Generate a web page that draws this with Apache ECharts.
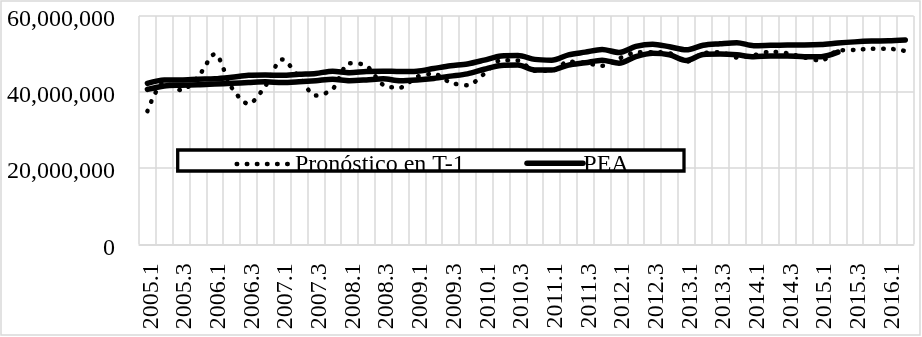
<!DOCTYPE html>
<html><head><meta charset="utf-8">
<script src="https://cdn.jsdelivr.net/npm/echarts@6/dist/echarts.min.js"></script>
<style>html,body{margin:0;padding:0;background:#fff}#c{width:922px;height:337px}</style>
</head><body><div id="c"></div>
<script>
const categories = ['2005.1','2005.2','2005.3','2005.4','2006.1','2006.2','2006.3','2006.4',
  '2007.1','2007.2','2007.3','2007.4','2008.1','2008.2','2008.3','2008.4',
  '2009.1','2009.2','2009.3','2009.4','2010.1','2010.2','2010.3','2010.4',
  '2011.1','2011.2','2011.3','2011.4','2012.1','2012.2','2012.3','2012.4',
  '2013.1','2013.2','2013.3','2013.4','2014.1','2014.2','2014.3','2014.4',
  '2015.1','2015.2','2015.3','2015.4','2016.1','2016.2'];

const forecastT1 = [35000000,42500000,40500000,44000000,50000000,41200000,36900000,41600000,48600000,44000000,
  39100000,40800000,47600000,46900000,41900000,41200000,44000000,44800000,42500000,41800000,
  44800000,48400000,48300000,45600000,45600000,48000000,47700000,46900000,48800000,50400000,
  50500000,50200000,48000000,50200000,50500000,49100000,49700000,50600000,50200000,49100000,
  48300000,50900000,51100000,51400000,51400000,50800000];

const peaUpper = [42300000,43200000,43200000,43400000,43500000,43900000,44400000,44500000,44400000,44700000,
  44900000,45500000,45100000,45400000,45500000,45400000,45500000,46200000,46900000,47400000,
  48400000,49500000,49600000,48600000,48400000,49800000,50500000,51200000,50400000,52000000,
  52600000,51900000,51100000,52300000,52700000,53000000,52200000,52300000,52400000,52400000,
  52500000,52900000,53200000,53400000,53500000,53700000];

const peaLower = [40700000,41600000,41800000,41900000,42100000,42300000,42500000,42700000,42500000,42700000,
  43000000,43400000,43000000,43200000,43500000,43000000,43200000,43600000,44200000,44800000,
  46000000,47000000,47100000,45800000,45800000,47100000,47700000,48400000,47600000,49300000,
  50200000,49800000,48300000,49900000,50000000,49800000,49300000,49500000,49500000,49300000,
  49300000,50500000,null,null,null,null];

const yMin = 0, yMax = 60000000, yStep = 20000000;
const legendNames = ['Pronóstico en T-1', 'PEA'];

// layout (not data)
const serif = 'Liberation Serif';
const legendBox = {x: 177.7, y: 150, w: 506.3, h: 21};
const legendLayout = [
  {sx: 59, ex: 110.3, sy: 14, tx: 117.3, w: 4.5, dash: [0.5, 9.6]},
  {sx: 349.3, ex: 405.3, sy: 13.3, tx: 405.6, w: 5.5, dash: null}
];
const DOT = [0.5, 9.6];

const chart = echarts.init(document.getElementById('c'), null, {renderer: 'canvas'});
chart.setOption({
  animation: false,
  backgroundColor: '#fff',
  grid: [
    {left: 139, top: 16, width: 774.7, height: 228.3},
    {left: legendBox.x, top: legendBox.y, width: legendBox.w, height: legendBox.h}
  ],
  xAxis: [
    {type: 'category', gridIndex: 0, data: categories, boundaryGap: true,
     axisLine: {lineStyle: {color: '#d9d9d9', width: 1.5}},
     axisTick: {show: false},
     axisLabel: {interval: 1, rotate: 90, margin: 19, fontFamily: serif, fontSize: 24, color: '#000',
       verticalAlign: 'top', lineHeight: 8},
     splitLine: {show: true, interval: 0, lineStyle: {color: '#d9d9d9', width: 1.5}}},
    {type: 'value', gridIndex: 1, min: 0, max: 1, show: false}
  ],
  yAxis: [
    {type: 'value', gridIndex: 0, min: yMin, max: yMax, interval: yStep,
     axisLine: {show: false}, axisTick: {show: false},
     axisLabel: {margin: 24, fontFamily: serif, fontSize: 24, color: '#000',
       verticalAlign: 'top', lineHeight: 8,
       formatter: v => v.toLocaleString('en-US')},
     splitLine: {show: true, lineStyle: {color: '#d9d9d9', width: 1.5}}},
    {type: 'value', gridIndex: 1, min: 0, max: 1, show: false}
  ],
  graphic: [
    {type: 'rect', z: 0, silent: true, shape: {x: 1, y: 1, width: 919, height: 334},
     style: {fill: 'none', stroke: '#d9d9d9', lineWidth: 1.5}},
    {type: 'rect', z: 4, silent: true, shape: {x: legendBox.x, y: legendBox.y, width: legendBox.w, height: legendBox.h},
     style: {fill: '#fff'}},
    {type: 'rect', z: 10, silent: true, shape: {x: legendBox.x, y: legendBox.y, width: legendBox.w, height: legendBox.h},
     style: {fill: 'none', stroke: '#000', lineWidth: 3.3}}
  ],
  series: [
    {name: legendNames[0], type: 'line', data: forecastT1, symbol: 'none', smooth: 0.3, z: 3,
     lineStyle: {color: '#000', width: 4.5, type: DOT, cap: 'round'}},
    {name: legendNames[1], type: 'line', data: peaLower, symbol: 'none', smooth: 0.3, z: 2,
     lineStyle: {color: '#000', width: 5.5, cap: 'round', join: 'round'}},
    {name: 'PEA (T)', type: 'line', data: peaUpper, symbol: 'none', smooth: 0.3, z: 2,
     lineStyle: {color: '#000', width: 5.5, cap: 'round', join: 'round'}},
    {name: 'legend', type: 'custom', xAxisIndex: 1, yAxisIndex: 1, clip: true, silent: true, z: 6,
     lineStyle: {width: 0.01},
     data: legendNames.map(() => [0, 0]),
     renderItem: function (params, api) {
       const cs = params.coordSys;
       const i = params.dataIndex;
       const L = legendLayout[i];
       const lineStyle = {stroke: '#000', lineWidth: L.w, lineCap: 'round'};
       if (L.dash) lineStyle.lineDash = L.dash;
       return {type: 'group', children: [
         {type: 'line', shape: {x1: cs.x + L.sx, y1: cs.y + L.sy, x2: cs.x + L.ex, y2: cs.y + L.sy}, style: lineStyle},
         {type: 'text', style: {text: legendNames[i], x: cs.x + L.tx, y: cs.y + 15,
           font: '24px "' + serif + '"', fill: '#000', align: 'left', verticalAlign: 'middle'}}
       ]};
     }}
  ]
});
</script>
</body></html>
